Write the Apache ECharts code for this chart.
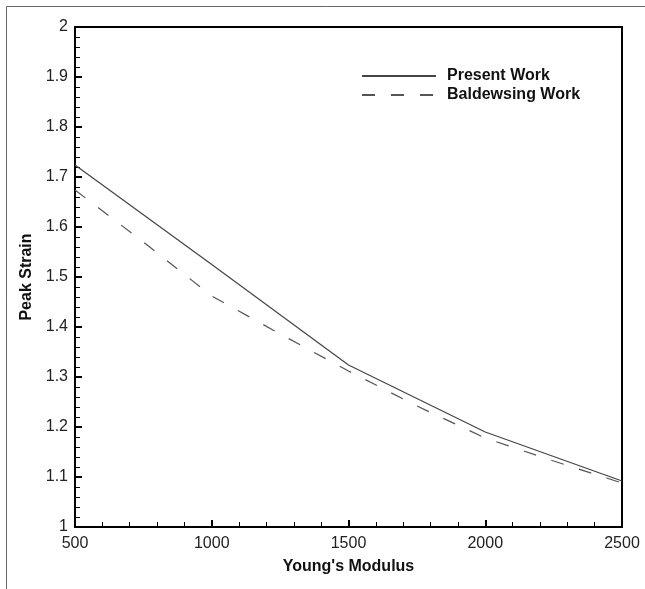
<!DOCTYPE html>
<html>
<head>
<meta charset="utf-8">
<script src="https://cdn.jsdelivr.net/npm/echarts@6/dist/echarts.min.js"></script>
<style>
  html, body { margin: 0; padding: 0; background: #fff; }
  #chart { width: 645px; height: 589px; }
</style>
</head>
<body>
<div id="chart"></div>
<script>
// values
var presentX = [500, 1000, 1500, 2000, 2500];
var presentY = [1.724, 1.525, 1.324, 1.19, 1.092];
var baldewsingX = [500, 750, 1000, 1250, 1500, 1750, 2000, 2250, 2500];
var baldewsingY = [1.674, 1.57, 1.462, 1.386, 1.312, 1.242, 1.178, 1.132, 1.088];

function pairs(xs, ys) {
  return xs.map(function (x, i) { return [x, ys[i]]; });
}

var font = '"Liberation Sans", Arial, sans-serif';
var chart = echarts.init(document.getElementById('chart'), null, { renderer: 'canvas' });

var option = {
  backgroundColor: '#fff',
  animation: false,
  graphic: [{
    type: 'rect',
    shape: { x: 6.5, y: 6.5, width: 660, height: 600 },
    style: { fill: 'none', stroke: '#666', lineWidth: 1 },
    silent: true
  }],
  grid: {
    left: 75, right: 23, top: 27, bottom: 62,
    show: true, borderColor: '#000', borderWidth: 2
  },
  legend: {
    orient: 'vertical',
    left: 356, top: 63,
    itemWidth: 74, itemHeight: 12, itemGap: 3,
    itemStyle: { opacity: 0 },
    textStyle: { fontFamily: font, fontWeight: 'bold', fontSize: 16, color: '#111', padding: [0, 0, 0, 6] },
    data: ['Present Work', 'Baldewsing Work']
  },
  xAxis: {
    type: 'value', min: 500, max: 2500, interval: 500,
    name: "Young's Modulus", nameLocation: 'middle', nameGap: 32,
    nameTextStyle: { fontFamily: font, fontWeight: 'bold', fontSize: 16, color: '#111' },
    axisLine: { lineStyle: { color: '#000', width: 2 } },
    axisTick: { inside: true, length: 7, lineStyle: { color: '#000', width: 2 } },
    minorTick: { show: true, splitNumber: 5, length: 5, lineStyle: { color: '#000', width: 1 } },
    axisLabel: { fontFamily: font, fontSize: 16, color: '#222', margin: 9, formatter: function (v) { return String(v); } },
    splitLine: { show: false }
  },
  yAxis: {
    type: 'value', min: 1, max: 2, interval: 0.1,
    name: 'Peak Strain', nameLocation: 'middle', nameGap: 37,
    nameTextStyle: { fontFamily: font, fontWeight: 'bold', fontSize: 16, color: '#111' },
    axisLine: { lineStyle: { color: '#000', width: 2 } },
    axisTick: { inside: true, length: 7, lineStyle: { color: '#000', width: 2 } },
    minorTick: { show: true, splitNumber: 5, length: 5, lineStyle: { color: '#000', width: 1 } },
    axisLabel: { fontFamily: font, fontSize: 16, color: '#222', margin: 7 },
    splitLine: { show: false }
  },
  series: [{
    name: 'Present Work',
    type: 'line',
    data: pairs(presentX, presentY),
    symbol: 'none',
    lineStyle: { color: '#444', width: 1.2, type: 'solid' },
    itemStyle: { color: '#444' }
  }, {
    name: 'Baldewsing Work',
    type: 'line',
    data: pairs(baldewsingX, baldewsingY),
    symbol: 'none',
    lineStyle: { color: '#555', width: 1.2, type: [13, 16] },
    itemStyle: { color: '#555' }
  }]
};

chart.setOption(option);
</script>
</body>
</html>
